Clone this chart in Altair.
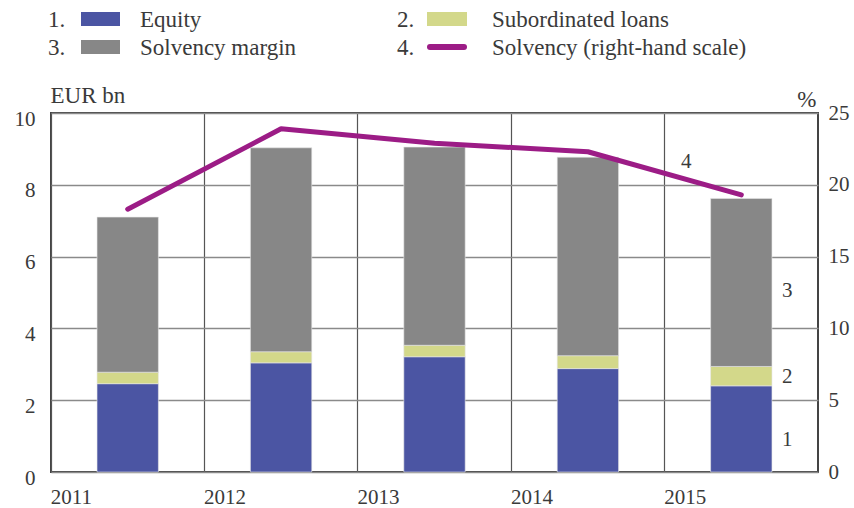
import altair as alt
import pandas as pd

years = ["2011", "2012", "2013", "2014", "2015"]
equity = [2.46, 3.04, 3.21, 2.88, 2.40]
sub_loans = [0.32, 0.31, 0.32, 0.36, 0.54]
margin = [4.32, 5.68, 5.52, 5.53, 4.68]
solvency = [18.3, 23.9, 22.9, 22.3, 19.3]

series_names = ["Equity", "Subordinated loans", "Solvency margin", "Solvency (right-hand scale)"]
series_nums = ["1.", "2.", "3.", "4."]
series_colors = ["#4b55a3", "#d3d88a", "#878787", "#9c1c86"]

ann_labels = ["1", "2", "3"]
ann_values = [0.9, 2.65, 5.05]
ann4_value = 21.6

FONT = "Liberation Serif"
TXT = "#3a3a3a"

rows = []
for i, yr in enumerate(years):
    for k, vals in enumerate([equity, sub_loans, margin]):
        rows.append({"year": yr, "series": series_names[k], "order": k, "value": vals[i]})
bars_df = pd.DataFrame(rows)
line_df = pd.DataFrame({"year": years, "solvency": solvency})
ann_df = pd.DataFrame({"year": ["2015"] * 3, "label": ann_labels, "value": ann_values})
ann4_df = pd.DataFrame({"year": ["2015"], "label": ["4"], "value": [ann4_value]})
one = pd.DataFrame({"a": [0]})


def xenc():
    return alt.X(
        "year:O",
        scale=alt.Scale(paddingInner=0, paddingOuter=0, domain=years),
        axis=alt.Axis(
            title=None, bandPosition=0, labelAlign="left", labelAngle=0,
            labelOffset=-77, tickSize=0, labelPadding=14, grid=True,
            gridColor="#555555", gridWidth=1.2, domain=False, labelFont=FONT,
            labelFontSize=21, labelColor=TXT, labelBaseline="top",
        ),
    )


left_scale = alt.Scale(domain=[0, 10], nice=False)
right_scale = alt.Scale(domain=[0, 25], nice=False)

bars = alt.Chart(bars_df).mark_bar(
    width=alt.RelativeBandSize(0.4), stroke="#e6e6e6", strokeWidth=0.6
).encode(
    x=xenc(),
    y=alt.Y(
        "value:Q", stack="zero", scale=left_scale,
        axis=alt.Axis(
            values=[0, 2, 4, 6, 8, 10], title="EUR bn", titleAngle=0,
            titleX=-1, titleY=-11, titleAlign="left", titleBaseline="alphabetic",
            titleFont=FONT, titleFontSize=23, titleFontWeight="normal", titleColor=TXT,
            grid=True, gridColor="#8a8a8a", gridWidth=1.3, tickSize=0,
            labelPadding=16, labelOffset=6, domain=False, labelFont=FONT,
            labelFontSize=21, labelColor=TXT,
        ),
    ),
    color=alt.Color("series:N", scale=alt.Scale(domain=series_names[:3], range=series_colors[:3]), legend=None),
    order=alt.Order("order:Q"),
)

ann = alt.Chart(ann_df).mark_text(
    font=FONT, fontSize=21, color=TXT, dx=46, baseline="middle"
).encode(
    x=xenc(),
    y=alt.Y("value:Q", scale=left_scale, axis=None),
    text="label:N",
)

line = alt.Chart(line_df).mark_line(
    color=series_colors[3], strokeWidth=5, strokeCap="round", strokeJoin="round"
).encode(
    x=xenc(),
    y=alt.Y(
        "solvency:Q", scale=right_scale,
        axis=alt.Axis(
            orient="right", values=[0, 5, 10, 15, 20, 25], title="%", titleAngle=0,
            titleX=-2, titleY=-7, titleAlign="right", titleBaseline="alphabetic",
            titleFont=FONT, titleFontSize=23, titleFontWeight="normal", titleColor=TXT,
            grid=False, tickSize=0, labelPadding=10, domain=False,
            labelFont=FONT, labelFontSize=21, labelColor=TXT,
        ),
    ),
)

ann4 = alt.Chart(ann4_df).mark_text(
    font=FONT, fontSize=21, color=TXT, dx=-55, baseline="middle"
).encode(
    x=xenc(),
    y=alt.Y("value:Q", scale=right_scale, axis=None),
    text="label:N",
)

# manual legend (two columns, two rows)
col_num_x = [-3, 346]
col_sw_x = [(30, 69), (376, 416)]
col_txt_x = [89, 441]
row_mid = [-94, -66]
row_base = [-86, -58]

legend_layers = []
for i, name in enumerate(series_names):
    c, r = i % 2, i // 2
    legend_layers.append(
        alt.Chart(one).mark_text(font=FONT, fontSize=23, color=TXT, align="left", baseline="alphabetic").encode(
            x=alt.value(col_num_x[c]), y=alt.value(row_base[r]), text=alt.value(series_nums[i])
        )
    )
    legend_layers.append(
        alt.Chart(one).mark_text(font=FONT, fontSize=23, color=TXT, align="left", baseline="alphabetic").encode(
            x=alt.value(col_txt_x[c]), y=alt.value(row_base[r]), text=alt.value(name)
        )
    )
    x0, x1 = col_sw_x[c]
    if i < 3:
        legend_layers.append(
            alt.Chart(one).mark_rect(color=series_colors[i]).encode(
                x=alt.value(x0), x2=alt.value(x1),
                y=alt.value(row_mid[r] - 7), y2=alt.value(row_mid[r] + 7),
            )
        )
    else:
        legend_layers.append(
            alt.Chart(one).mark_rule(color=series_colors[i], strokeWidth=6, strokeCap="round").encode(
                x=alt.value(x0 + 3), x2=alt.value(x1 - 3), y=alt.value(row_mid[r])
            )
        )

chart = alt.layer(bars, line, ann, ann4, *legend_layers).resolve_scale(
    y="independent"
).properties(
    width=767, height=359,
    autosize=alt.AutoSizeParams(type="none"),
    padding={"left": 51, "top": 113, "right": 36, "bottom": 36},
    background="white",
).configure_view(stroke="#444444", strokeWidth=2)

chart.save("out.html", embed_options={"renderer": "svg", "actions": False})
